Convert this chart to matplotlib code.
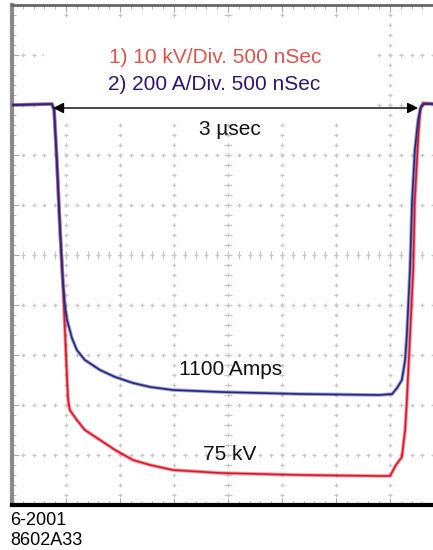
import numpy as np
import matplotlib.pyplot as plt
from matplotlib.patches import Rectangle

plt.rcParams['font.family'] = ['Liberation Sans', 'DejaVu Sans']

# time and level, in divisions
t_amps = [0, 0.74, 0.78, 0.83, 0.89, 0.94, 0.98, 1.02, 1.11, 1.2, 1.35, 1.63, 1.91,
          2.24, 2.56, 2.98, 3.85, 5.33, 6.81, 7.04, 7.13, 7.22, 7.28, 7.31, 7.37,
          7.41, 7.46, 7.52, 7.57, 7.63, 7.9]
amps = [8.0, 8.02, 7.9, 6.9, 5.5, 4.5, 4.0, 3.7, 3.34, 3.1, 2.9, 2.7, 2.56,
        2.44, 2.36, 2.3, 2.26, 2.22, 2.2, 2.22, 2.34, 2.5, 2.9, 3.36, 4.7,
        6.1, 7.1, 7.7, 7.96, 8.02, 8.02]

t_volts = [0, 0.74, 0.78, 0.83, 0.89, 0.94, 0.98, 1.02, 1.04, 1.07, 1.2, 1.35, 1.63,
           1.91, 2.24, 2.56, 2.98, 3.85, 5.33, 6.81, 7.0, 7.06, 7.11, 7.22, 7.28,
           7.31, 7.37, 7.43, 7.46, 7.52, 7.56, 7.61, 7.9]
volts = [8.0, 8.02, 7.9, 6.9, 5.5, 4.5, 3.5, 2.5, 2.1, 1.9, 1.7, 1.5, 1.3,
         1.1, 0.9, 0.8, 0.7, 0.64, 0.6, 0.58, 0.58, 0.7, 0.8, 0.96, 1.5,
         2.04, 3.36, 4.7, 6.1, 7.3, 7.9, 8.04, 8.02]

fig = plt.figure(figsize=(4.33, 5.5), dpi=100)
# screen is 10 x 10 divisions, right part is cut off by the figure edge
ax = fig.add_axes([12 / 433, 45 / 550, 540 / 433, 500 / 550])
ax.set_xlim(0, 10)
ax.set_ylim(0, 10)

# graticule: dashes with small crosses every 0.2 div
grid_c = '#c6c6c6'
minor = np.arange(0.2, 9.9, 0.2)
for k in range(1, 10):
    big = 6 if k == 4 else 2.5
    ax.plot(np.full_like(minor, k), minor, ls='none', marker='|', ms=3.5,
            mew=0.9, color=grid_c, zorder=1)
    ax.plot(np.full_like(minor, k), minor, ls='none', marker='_', ms=big,
            mew=0.9, color=grid_c, zorder=1)
for k in range(1, 10):
    big = 6 if k == 5 else 2.5
    ax.plot(minor, np.full_like(minor, k), ls='none', marker='_', ms=3.5,
            mew=0.9, color=grid_c, zorder=1)
    ax.plot(minor, np.full_like(minor, k), ls='none', marker='|', ms=big,
            mew=0.9, color=grid_c, zorder=1)

# the labels sit on a blanked patch of the screen
ax.add_patch(Rectangle((0.6, 7.75), 6.1, 2.0, facecolor='white', edgecolor='none', zorder=2))

# traces
ax.plot(t_volts, volts, color='#e8202c', lw=2.6, alpha=0.45, zorder=3)
ax.plot(t_volts, volts, color='#d8182a', lw=1.2, zorder=3)
ax.plot(t_amps, amps, color='#3a3a9a', lw=2.6, alpha=0.45, zorder=4)
ax.plot(t_amps, amps, color='#25287e', lw=1.2, zorder=4)

# width arrow
ax.annotate('', xy=(0.76, 7.94), xytext=(7.52, 7.94),
            arrowprops=dict(arrowstyle='<|-|>', color='black', lw=1.0,
                            mutation_scale=16, shrinkA=0, shrinkB=0), zorder=5)

fs = 15
ax.text(3.76, 8.84, '1) 10 kV/Div. 500 nSec', color='#d9534f', fontsize=fs,
        ha='center', va='baseline', zorder=6)
ax.text(3.74, 8.30, '2) 200 A/Div. 500 nSec', color='#2e1470', fontsize=fs,
        ha='center', va='baseline', zorder=6)
ax.text(4.04, 7.40, '3 \u00b5sec', color='#111111', fontsize=fs, ha='center', va='baseline', zorder=6)
ax.text(4.04, 2.60, '1100 Amps', color='#111111', fontsize=fs, ha='center', va='baseline', zorder=6)
ax.text(4.04, 0.90, '75 kV', color='#111111', fontsize=fs, ha='center', va='baseline', zorder=6)

# frame
ax.spines['right'].set_visible(False)
ax.spines['top'].set_color('#666666')
ax.spines['top'].set_linewidth(2)
ax.spines['left'].set_color('#8a8a8a')
ax.spines['left'].set_linewidth(3)
ax.spines['bottom'].set_color('black')
ax.spines['bottom'].set_linewidth(3)
ax.set_xticks(range(0, 11))
ax.set_yticks(range(0, 11))
ax.set_xticks(np.arange(0, 10.01, 0.2), minor=True)
ax.set_yticks(np.arange(0, 10.01, 0.2), minor=True)
ax.tick_params(which='both', direction='in', top=True, bottom=True, left=True, right=False,
               labelbottom=False, labelleft=False, color='#a8a8a8')
ax.tick_params(which='major', length=5, width=0.8)
ax.tick_params(which='minor', length=3, width=0.6)

fig.text(10 / 433, 1 - 525 / 550, '6-2001', fontsize=13, va='baseline', ha='left')
fig.text(10 / 433, 1 - 545 / 550, '8602A33', fontsize=13, va='baseline', ha='left')

fig.savefig('out.png', dpi=100)
